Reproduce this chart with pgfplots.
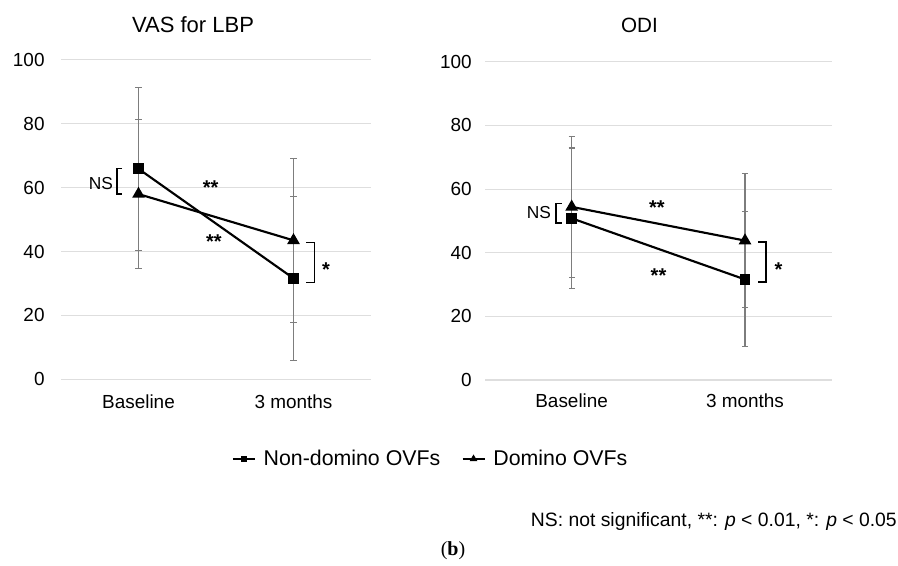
\documentclass[border=0pt]{standalone}
\usepackage{fontspec}
\setmainfont{Liberation Sans}
\newfontfamily\seriffont{Liberation Serif}
\usepackage{pgfplots}
\pgfplotsset{compat=1.18}
\definecolor{gridgray}{RGB}{222,222,222}
\definecolor{errgray}{RGB}{125,125,125}

\pgfplotstableread{
x  y     e
0  65.9  25.5
1  31.6  25.7
}\leftND
\pgfplotstableread{
x  y     e
0  58.0  23.3
1  43.5  25.6
}\leftD
\pgfplotstableread{
x  y     e
0  50.8  22.1
1  31.6  21.2
}\rightND
\pgfplotstableread{
x  y     e
0  54.4  22.1
1  43.8  21.1
}\rightD

\pgfplotsset{
  panel/.style={
    anchor=south west, scale only axis,
    xmin=-0.5, xmax=1.5, ymin=0, ymax=100,
    xtick={0,1}, xticklabels={Baseline,3 months},
    ytick={0,20,40,60,80,100},
    ymajorgrids, grid style={draw=gridgray, line width=0.8pt},
    axis line style={draw=none}, major tick length=0pt,
    tick label style={font=\fontsize{14.2}{16}\selectfont},
    /pgf/number format/assume math mode=true,
    clip=false,
  },
  errplot/.style={forget plot, only marks, mark=none,
    error bars/.cd, y dir=both, y explicit,
    error bar style={color=errgray, line width=0.8pt},
    error mark options={rotate=90, mark size=2.3pt, color=errgray, line width=0.8pt}},
  ndline/.style={forget plot, black, line width=1.6pt, mark=square*, mark size=3.3pt, mark options={solid}},
  dline/.style={forget plot, black, line width=1.6pt, mark=triangle*, mark size=3.9pt, mark options={solid}},
}
\tikzset{
  ast/.style={font=\bfseries\fontsize{15}{17}\selectfont, anchor=north, inner sep=0pt},
  nst/.style={font=\fontsize{13}{15}\selectfont, inner sep=0pt},
  brk/.style={black, line width=1.1pt},
}

\begin{document}
\begin{tikzpicture}
\useasboundingbox (0,0) rectangle (673.5pt,423.75pt);

% ---------- Left panel ----------
\begin{axis}[panel,
  at={(45.75pt,139.3pt)}, width=232.5pt, height=239.5pt,
  yticklabel style={xshift=-8.8pt},
  xticklabel style={yshift=-7.8pt},
  legend style={at={(1.1935,-0.2496)}, anchor=center, draw=none, fill=none,
    legend columns=2, font=\fontsize{16}{18}\selectfont,
    /tikz/every odd column/.append style={column sep=4pt},
    /tikz/every even column/.append style={column sep=14pt}},
  legend image code/.code={%
    \draw[#1, mark=none] (0pt,0pt) -- (16.5pt,0pt);
    \draw[#1, line width=0.8pt] plot coordinates {(8.25pt,0pt)};},
]
\addlegendimage{black, line width=1.3pt, mark=square*, mark size=1.8pt}
\addlegendentry{Non-domino OVFs}
\addlegendimage{black, line width=1.3pt, mark=triangle*, mark size=2.6pt}
\addlegendentry{Domino OVFs}
\addplot[errplot] table[x=x,y=y,y error=e] {\leftND};
\addplot[errplot] table[x=x,y=y,y error=e] {\leftD};
\addplot[ndline] table[x=x,y=y] {\leftND};
\addplot[dline] table[x=x,y=y] {\leftD};

\node[nst] at (axis cs:-0.242,61.4) {NS};
\draw[brk] (axis cs:-0.106,66) -- (axis cs:-0.139,66) -- (axis cs:-0.139,58) -- (axis cs:-0.106,58);
\node[ast] at (axis cs:0.466,62.4) {**};
\node[ast] at (axis cs:0.487,45.2) {**};
\draw[brk] (axis cs:1.081,42.9) -- (axis cs:1.137,42.9) -- (axis cs:1.137,30.3) -- (axis cs:1.081,30.3);
\node[ast] at (axis cs:1.21,36.6) {*};
\end{axis}

% ---------- Right panel ----------
\begin{axis}[panel,
  at={(363.75pt,138.75pt)}, width=260pt, height=238.7pt,
  yticklabel style={xshift=-6.5pt},
  xticklabel style={yshift=-7pt},
]
\addplot[errplot] table[x=x,y=y,y error=e] {\rightND};
\addplot[errplot] table[x=x,y=y,y error=e] {\rightD};
\addplot[ndline] table[x=x,y=y] {\rightND};
\addplot[dline] table[x=x,y=y] {\rightD};

\node[nst] at (axis cs:-0.189,52.6) {NS};
\draw[brk] (axis cs:-0.058,55.5) -- (axis cs:-0.091,55.5) -- (axis cs:-0.091,49.4) -- (axis cs:-0.058,49.4);
\node[ast] at (axis cs:0.491,56.3) {**};
\node[ast] at (axis cs:0.501,35.1) {**};
\draw[brk] (axis cs:1.077,43.4) -- (axis cs:1.121,43.4) -- (axis cs:1.121,30.8) -- (axis cs:1.077,30.8);
\node[ast] at (axis cs:1.193,36.9) {*};
\end{axis}

% ---------- Titles and notes ----------
\node[anchor=base, font=\fontsize{16.5}{19}\selectfont] at (144.75pt,399.5pt) {VAS for LBP};
\node[anchor=base, font=\fontsize{15.5}{18}\selectfont] at (479.6pt,399pt) {ODI};
\node[anchor=base east, inner sep=0pt, font=\fontsize{14.5}{17}\selectfont] at (672.75pt,28.7pt)
  {NS: not significant, **: \textit{p} < 0.01, *: \textit{p} < 0.05};
\node[font=\seriffont\fontsize{15}{17}\selectfont] at (339.75pt,10.5pt) {(\textbf{b})};
\end{tikzpicture}
\end{document}
